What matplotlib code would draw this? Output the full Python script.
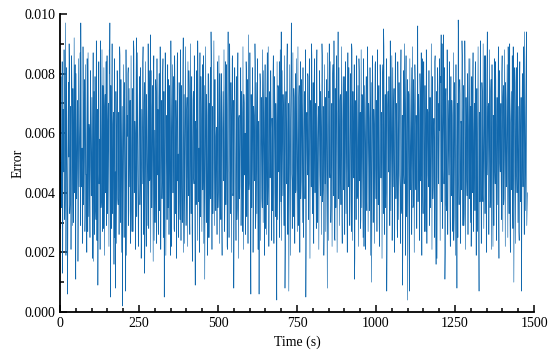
import numpy as np
import matplotlib
matplotlib.use("Agg")
import matplotlib.pyplot as plt
from matplotlib.ticker import MultipleLocator, FormatStrFormatter

# error readings at even seconds (0, 2, 4, ...), in units of 1e-4
err_even_e4 = [
    50, 62, 41, 55, 13, 68, 47, 72, 38, 97, 45, 58, 6, 64, 52, 81, 36, 60, 44, 75, 29, 57, 66, 40, 83, 11, 59, 48, 70, 34, 62, 52, 87, 97, 42, 55, 24, 69, 50, 78, 33, 61, 46, 85, 27, 54, 63, 39, 72, 49,
    56, 37, 68, 17, 74, 45, 60, 31, 79, 52, 9, 66, 43, 58, 91, 35, 62, 48, 76, 28, 55, 69, 40, 84, 51, 33, 64, 47, 88, 97, 5, 58, 71, 38, 63, 46, 80, 25, 8, 61, 53, 74, 36, 67, 44, 86, 30, 57, 49, 2,
    62, 44, 77, 53, 7, 68, 39, 59, 82, 34, 56, 71, 45, 63, 27, 75, 50, 88, 41, 60, 36, 92, 48, 67, 22, 57, 79, 43, 65, 31, 54, 84, 46, 70, 13, 58, 38, 73, 52, 29, 66, 81, 44, 93, 55, 35, 69, 47, 76, 24,
    61, 42, 74, 33, 57, 68, 26, 80, 49, 63, 38, 71, 45, 85, 30, 5, 59, 72, 41, 66, 52, 35, 78, 47, 62, 19, 69, 55, 83, 40, 58, 27, 74, 49, 64, 37, 87, 53, 44, 70, 31, 61, 76, 42, 56, 92, 48, 23, 67, 54,
    39, 72, 58, 45, 81, 34, 63, 50, 69, 28, 57, 74, 43, 65, 9, 60, 77, 48, 91, 37, 55, 68, 32, 79, 51, 64, 41, 86, 46, 11, 62, 53, 73, 36, 58, 25, 70, 49, 82, 94, 44, 61, 33, 67, 54, 78, 38, 59, 47, 71,
    35, 63, 52, 80, 42, 66, 29, 57, 74, 45, 61, 37, 84, 50, 68, 21, 94, 47, 59, 72, 34, 64, 53, 86, 40, 8, 56, 70, 44, 62, 31, 77, 49, 65, 38, 58, 82, 43, 67, 27, 55, 73, 46, 60, 36, 79, 51, 64, 93, 41,
    57, 70, 6, 62, 48, 75, 39, 66, 53, 83, 33, 58, 71, 44, 63, 6, 60, 77, 46, 68, 35, 55, 81, 49, 64, 28, 72, 51, 87, 42, 59, 37, 74, 54, 66, 24, 61, 79, 45, 57, 69, 32, 63, 4, 58, 76, 47, 84, 38, 65,
    94, 50, 62, 73, 41, 56, 8, 69, 54, 82, 36, 60, 7, 71, 48, 64, 97, 44, 58, 33, 75, 52, 67, 40, 85, 47, 61, 29, 72, 55, 63, 38, 78, 49, 66, 26, 59, 74, 43, 5, 62, 54, 80, 37, 68, 46, 57, 71, 90, 42,
    60, 35, 73, 52, 64, 44, 81, 30, 58, 69, 47, 76, 39, 62, 55, 86, 41, 67, 28, 59, 72, 50, 63, 8, 57, 74, 90, 45, 61, 36, 70, 53, 83, 42, 66, 24, 58, 77, 48, 63, 94, 38, 55, 71, 46, 68, 32, 60, 79, 51,
    43, 65, 57, 74, 36, 62, 49, 82, 40, 58, 69, 27, 88, 53, 64, 45, 11, 71, 56, 78, 38, 61, 50, 85, 44, 67, 31, 59, 73, 47, 63, 22, 76, 54, 68, 40, 57, 80, 46, 65, 34, 70, 52, 10, 60, 75, 42, 63, 55, 84,
    38, 61, 72, 49, 66, 30, 58, 77, 45, 63, 54, 83, 95, 41, 60, 35, 69, 7, 56, 74, 47, 64, 29, 71, 52, 86, 43, 59, 68, 37, 62, 80, 48, 57, 25, 73, 51, 65, 42, 78, 55, 33, 9, 67, 46, 90, 58, 70, 39, 62,
    4, 57, 73, 7, 64, 50, 82, 44, 61, 36, 69, 55, 78, 41, 59, 47, 96, 52, 66, 30, 74, 48, 63, 85, 39, 57, 70, 45, 62, 27, 76, 53, 67, 42, 81, 58, 35, 64, 49, 72, 38, 60, 55, 84, 46, 16, 68, 51, 75, 43,
    61, 54, 79, 93, 40, 65, 57, 93, 48, 11, 70, 36, 62, 75, 45, 58, 83, 32, 66, 52, 71, 41, 60, 24, 77, 49, 64, 56, 8, 68, 98, 43, 59, 73, 37, 63, 91, 50, 67, 29, 56, 80, 46, 62, 39, 74, 53, 85, 42, 58,
    69, 34, 63, 76, 48, 60, 55, 82, 40, 66, 27, 71, 52, 7, 64, 91, 45, 58, 74, 37, 62, 50, 86, 43, 67, 31, 94, 56, 70, 46, 61, 39, 78, 53, 65, 22, 59, 73, 47, 84, 41, 63, 55, 69, 33, 76, 50, 61, 44, 80,
    58, 72, 36, 65, 49, 77, 42, 61, 54, 89, 45, 68, 30, 63, 74, 51, 38, 89, 10, 57, 70, 46, 82, 40, 64, 53, 27, 75, 48, 60, 7, 66, 55, 79, 43, 94, 50, 62, 94, 34,
]

# error readings at odd seconds (1, 3, 5, ...), in units of 1e-4
err_odd_e4 = [
    28, 79, 35, 84, 22, 66, 88, 31, 73, 19, 82, 44, 26, 77, 90, 33, 69, 21, 86, 48, 75, 30, 92, 57, 24, 80, 38, 71, 17, 85, 42, 65, 29, 78, 51, 23, 89, 36, 74, 27, 83, 46, 20, 70, 87, 32, 61, 25, 81, 39,
    72, 18, 87, 43, 26, 79, 34, 91, 24, 68, 30, 84, 49, 21, 76, 37, 88, 27, 63, 82, 19, 73, 45, 29, 86, 35, 70, 22, 80, 41, 76, 28, 90, 33, 67, 16, 85, 47, 74, 23, 81, 38, 62, 26, 89, 31, 78, 20, 69, 44,
    83, 25, 71, 37, 88, 19, 66, 80, 29, 75, 42, 23, 86, 34, 70, 27, 91, 40, 64, 21, 79, 32, 87, 48, 24, 73, 36, 82, 18, 68, 43, 89, 26, 77, 31, 84, 22, 65, 39, 90, 28, 72, 45, 20, 81, 35, 76, 17, 86, 41,
    30, 78, 23, 85, 46, 27, 72, 34, 89, 21, 67, 38, 80, 25, 74, 42, 87, 19, 63, 31, 83, 48, 26, 76, 35, 91, 22, 69, 40, 79, 28, 86, 33, 71, 18, 84, 44, 25, 77, 37, 88, 24, 65, 30, 82, 20, 73, 47, 89, 29,
    68, 22, 84, 39, 75, 26, 90, 33, 79, 17, 71, 45, 86, 28, 64, 36, 81, 24, 77, 41, 20, 87, 32, 70, 27, 83, 49, 23, 76, 35, 89, 30, 66, 19, 80, 43, 25, 74, 38, 85, 21, 69, 46, 91, 29, 78, 34, 62, 26, 84,
    40, 86, 23, 72, 31, 80, 19, 67, 44, 88, 27, 75, 36, 83, 22, 69, 48, 25, 90, 33, 77, 20, 85, 39, 71, 28, 82, 45, 24, 79, 35, 87, 18, 66, 42, 81, 29, 74, 37, 89, 21, 70, 46, 26, 84, 32, 78, 23, 68, 43,
    87, 26, 73, 35, 82, 20, 69, 44, 90, 28, 77, 33, 85, 21, 64, 47, 80, 24, 72, 38, 88, 30, 67, 19, 83, 41, 26, 76, 36, 89, 22, 71, 45, 81, 27, 65, 34, 86, 23, 79, 40, 70, 18, 84, 31, 75, 48, 25, 88, 37,
    24, 81, 39, 68, 29, 86, 21, 74, 43, 90, 26, 70, 35, 83, 19, 77, 47, 28, 87, 32, 72, 23, 80, 41, 66, 27, 89, 36, 76, 20, 84, 44, 69, 30, 82, 25, 73, 38, 88, 22, 67, 46, 79, 31, 85, 18, 71, 42, 86, 33,
    77, 23, 85, 40, 70, 28, 88, 34, 65, 21, 81, 46, 74, 26, 90, 37, 69, 19, 83, 43, 27, 78, 32, 87, 24, 72, 48, 84, 30, 66, 22, 80, 39, 91, 25, 75, 35, 86, 20, 68, 45, 82, 29, 73, 36, 89, 23, 70, 41, 79,
    26, 84, 33, 71, 20, 87, 42, 67, 29, 80, 37, 90, 24, 74, 45, 83, 18, 69, 31, 86, 39, 76, 22, 81, 47, 28, 88, 35, 72, 25, 85, 41, 64, 21, 79, 34, 89, 27, 70, 44, 82, 19, 77, 36, 86, 30, 68, 23, 83, 48,
    71, 27, 88, 36, 76, 22, 83, 45, 67, 18, 80, 33, 89, 26, 73, 40, 85, 21, 69, 47, 79, 29, 91, 34, 64, 24, 82, 42, 75, 20, 87, 38, 70, 28, 84, 31, 77, 46, 23, 88, 35, 66, 25, 81, 43, 72, 19, 86, 32, 78,
    30, 74, 22, 85, 41, 69, 26, 89, 35, 78, 20, 83, 47, 66, 28, 91, 37, 73, 24, 80, 44, 87, 19, 70, 33, 84, 27, 76, 39, 88, 23, 68, 46, 81, 29, 72, 36, 90, 21, 79, 42, 65, 25, 86, 34, 74, 18, 82, 45, 70,
    85, 24, 77, 37, 90, 28, 68, 43, 82, 20, 75, 34, 88, 26, 71, 46, 84, 22, 79, 39, 66, 27, 87, 32, 73, 19, 83, 48, 70, 25, 89, 36, 78, 23, 64, 41, 86, 29, 76, 33, 91, 21, 72, 44, 80, 26, 67, 38, 85, 30,
    22, 79, 40, 87, 27, 70, 34, 84, 19, 75, 45, 89, 25, 67, 37, 82, 23, 77, 42, 90, 28, 71, 33, 86, 20, 80, 46, 69, 26, 88, 35, 74, 21, 83, 39, 66, 29, 85, 43, 78, 24, 72, 36, 89, 18, 81, 47, 70, 31, 86,
    27, 76, 38, 88, 22, 71, 44, 83, 25, 79, 33, 90, 20, 68, 41, 86, 28, 74, 35, 82, 23, 77, 46, 87, 30, 69, 24, 84, 37, 72, 21, 80, 42, 89, 26, 75, 34, 85, 29, 40,
]

n = min(len(err_even_e4), len(err_odd_e4))
t = np.empty(2 * n)
err = np.empty(2 * n)
t[0::2] = np.arange(n) * 2
t[1::2] = np.arange(n) * 2 + 1
err[0::2] = np.array(err_even_e4[:n]) * 1e-4
err[1::2] = np.array(err_odd_e4[:n]) * 1e-4

plt.rcParams["font.family"] = ["Liberation Serif", "DejaVu Serif"]
plt.rcParams["font.size"] = 10

fig = plt.figure(figsize=(5.5, 3.59), dpi=100)
ax = fig.add_axes([0.109, 0.131, 0.862, 0.830])
ax.plot(t, err, color="#1168ad", lw=0.45)

ax.set_xlim(0, 1500)
ax.set_ylim(0, 0.010)
ax.xaxis.set_major_locator(MultipleLocator(250))
ax.xaxis.set_minor_locator(MultipleLocator(50))
ax.yaxis.set_major_locator(MultipleLocator(0.002))
ax.yaxis.set_minor_locator(MultipleLocator(0.001))
ax.yaxis.set_major_formatter(FormatStrFormatter("%.3f"))
ax.tick_params(which="both", direction="in", width=1.1)
ax.tick_params(which="major", length=5)
ax.tick_params(which="minor", length=3)
ax.spines["top"].set_visible(False)
ax.spines["right"].set_visible(False)
ax.spines["left"].set_linewidth(1.3)
ax.spines["bottom"].set_linewidth(1.3)

ax.set_xlabel("Time (s)")
ax.set_ylabel("Error", labelpad=0)

fig.savefig("out.png", dpi=100)
